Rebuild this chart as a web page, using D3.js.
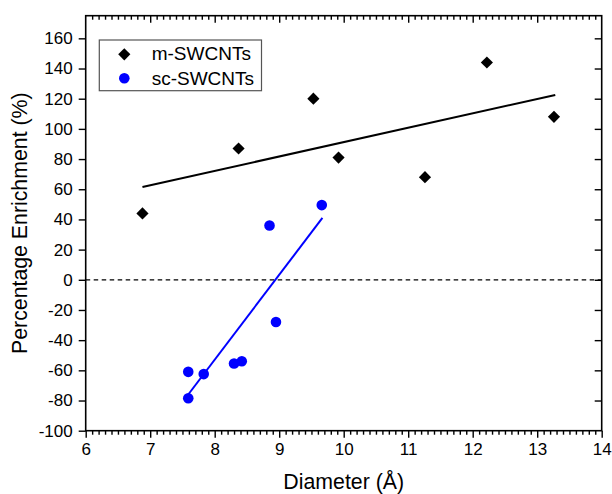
<!DOCTYPE html>
<html>
<head>
<meta charset="utf-8">
<script src="https://cdn.jsdelivr.net/npm/d3@7"></script>
<style>
  html, body { margin: 0; padding: 0; background: #fff; }
  svg { display: block; }
  text { font-family: "Liberation Sans", Arial, Helvetica, sans-serif; fill: #000; }
</style>
</head>
<body>
<svg id="chart" width="612" height="494"></svg>
<script>
// Metallic tubes: diameter (Å) vs percentage enrichment
const mDiameter = [6.88, 8.37, 9.53, 9.92, 11.26, 12.22, 13.26];
const mEnrichment = [44, 87, 120, 81, 68, 144, 108];

// Semiconducting tubes
const scDiameter = [7.59, 7.59, 7.83, 8.30, 8.42, 8.85, 8.95, 9.66];
const scEnrichment = [-61, -78.5, -62.5, -55.5, -54, 36, -28, 49.5];

// Linear fit lines (endpoints)
const mFitX = [6.88, 13.28];
const mFitY = [61.5, 122.5];
const scFitX = [7.59, 9.67];
const scFitY = [-76, 41];

const xTicks = [6, 7, 8, 9, 10, 11, 12, 13, 14];
const yTicks = [-100, -80, -60, -40, -20, 0, 20, 40, 60, 80, 100, 120, 140, 160];
const legendLabels = ["m-SWCNTs", "sc-SWCNTs"];

const svg = d3.select("#chart");
const plot = { left: 85.7, right: 601.7, top: 15.7, bottom: 430.7 };

const x = d3.scaleLinear().domain([6, 14]).range([plot.left, plot.right]);
const y = d3.scaleLinear().domain([-100, 175]).range([plot.bottom, plot.top]);

const xMinor = d3.range(60, 141).map(v => v / 10).filter(v => Math.abs(v - Math.round(v)) > 1e-9);
const fmt = d => String(d); // plain hyphen for negatives

function styleAxis(g) {
  g.select(".domain").remove();
  g.selectAll(".tick line").attr("stroke", "#000").attr("stroke-width", 1.4);
}

// bottom axis: labelled majors + minors, pointing outward
svg.append("g").attr("transform", `translate(0,${plot.bottom})`)
  .call(d3.axisBottom(x).tickValues(xMinor).tickSize(4).tickFormat(""))
  .call(styleAxis);
svg.append("g").attr("transform", `translate(0,${plot.bottom})`)
  .call(d3.axisBottom(x).tickValues(xTicks).tickSize(7).tickPadding(5).tickFormat(fmt))
  .call(styleAxis)
  .call(g => g.selectAll("text").attr("font-size", 17));

// top axis: ticks pointing inward
svg.append("g").attr("transform", `translate(0,${plot.top})`)
  .call(d3.axisBottom(x).tickValues(xMinor).tickSize(4).tickFormat(""))
  .call(styleAxis);
svg.append("g").attr("transform", `translate(0,${plot.top})`)
  .call(d3.axisBottom(x).tickValues(xTicks.slice(1, -1)).tickSize(7).tickFormat(""))
  .call(styleAxis);

// left axis
svg.append("g").attr("transform", `translate(${plot.left},0)`)
  .call(d3.axisLeft(y).tickValues(yTicks).tickSize(7).tickPadding(6).tickFormat(fmt))
  .call(styleAxis)
  .call(g => g.selectAll("text").attr("font-size", 17));

// right axis: ticks pointing inward
svg.append("g").attr("transform", `translate(${plot.right},0)`)
  .call(d3.axisLeft(y).tickValues(yTicks.slice(1)).tickSize(7).tickFormat(""))
  .call(styleAxis);

// frame
svg.append("rect")
  .attr("x", plot.left).attr("y", plot.top)
  .attr("width", plot.right - plot.left).attr("height", plot.bottom - plot.top)
  .attr("fill", "none").attr("stroke", "#000").attr("stroke-width", 1.6);

// zero reference
svg.append("line")
  .attr("x1", plot.left).attr("x2", plot.right)
  .attr("y1", y(0)).attr("y2", y(0))
  .attr("stroke", "#000").attr("stroke-width", 1.3)
  .attr("stroke-dasharray", "4.5,3.5");

// fit lines
const line = d3.line().x(d => x(d[0])).y(d => y(d[1]));
svg.append("path").datum(d3.zip(mFitX, mFitY)).attr("d", line)
  .attr("fill", "none").attr("stroke", "#000").attr("stroke-width", 2);
svg.append("path").datum(d3.zip(scFitX, scFitY)).attr("d", line)
  .attr("fill", "none").attr("stroke", "#0000ff").attr("stroke-width", 2);

// markers
const diamond = d3.symbol().type(d3.symbolSquare).size(74);
svg.append("g").selectAll("path").data(d3.zip(mDiameter, mEnrichment)).join("path")
  .attr("d", diamond)
  .attr("transform", d => `translate(${x(d[0])},${y(d[1])}) rotate(45)`)
  .attr("fill", "#000");

svg.append("g").selectAll("circle").data(d3.zip(scDiameter, scEnrichment)).join("circle")
  .attr("cx", d => x(d[0])).attr("cy", d => y(d[1]))
  .attr("r", 5.3).attr("fill", "#0000ff");

// legend
const lg = svg.append("g");
lg.append("rect").attr("x", 99.3).attr("y", 40).attr("width", 162.2).attr("height", 50.7)
  .attr("fill", "#fff").attr("stroke", "#555").attr("stroke-width", 1.2);
lg.append("path").attr("d", diamond).attr("transform", "translate(124.3,54.3) rotate(45)").attr("fill", "#000");
lg.append("circle").attr("cx", 124.3).attr("cy", 78.3).attr("r", 5.3).attr("fill", "#0000ff");
lg.selectAll("text").data(legendLabels).join("text")
  .attr("x", 151.7).attr("y", (d, i) => 60.3 + i * 24.3)
  .attr("font-size", 19)
  .text(d => d);

// axis titles
svg.append("text")
  .attr("x", (plot.left + plot.right) / 2).attr("y", 489)
  .attr("text-anchor", "middle").attr("font-size", 21.3)
  .text("Diameter (Å)");
svg.append("text")
  .attr("transform", `translate(27,${(plot.top + plot.bottom) / 2}) rotate(-90)`)
  .attr("text-anchor", "middle").attr("font-size", 21.3)
  .text("Percentage Enrichment (%)");
</script>
</body>
</html>
